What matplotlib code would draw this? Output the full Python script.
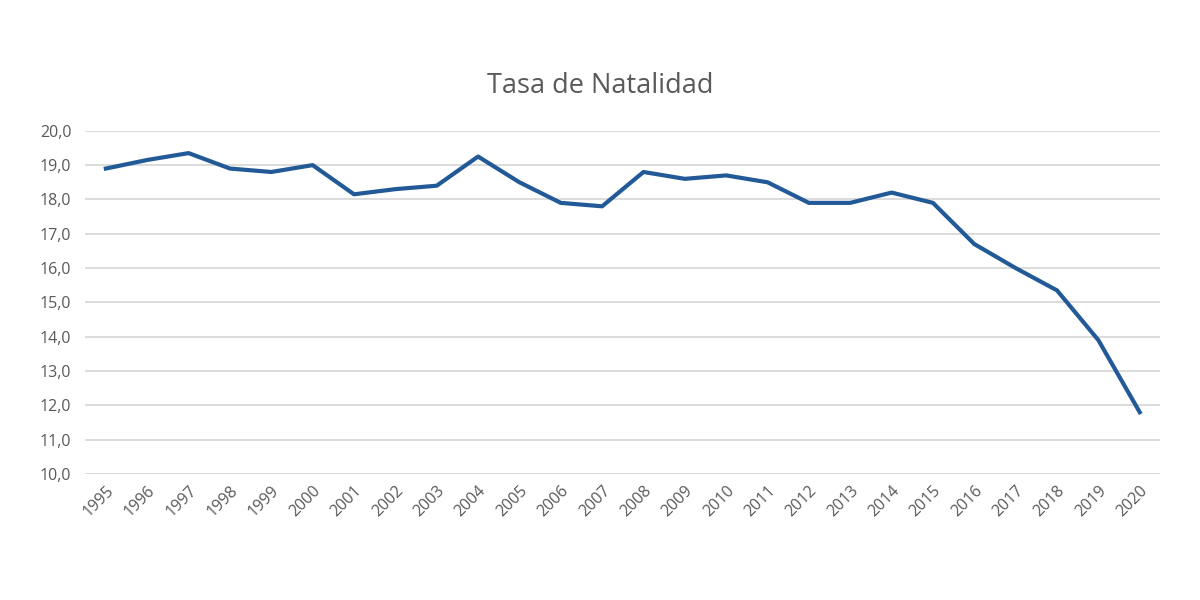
import matplotlib
matplotlib.use("Agg")
import matplotlib.pyplot as plt
from matplotlib.ticker import FuncFormatter, MultipleLocator

years = [str(y) for y in range(1995, 2021)]
tasa = [18.9, 19.15, 19.35, 18.9, 18.8, 19.0, 18.15, 18.3, 18.4, 19.25,
        18.5, 17.9, 17.8, 18.8, 18.6, 18.7, 18.5, 17.9, 17.9, 18.2,
        17.9, 16.7, 16.0, 15.35, 13.9, 11.8]

plt.rcParams['font.family'] = ['Open Sans', 'DejaVu Sans']
text_color = '#595959'

fig = plt.figure(figsize=(12, 6), dpi=100)
ax = fig.add_axes([0.071, 0.21, 0.896, 0.572])

ax.plot(range(len(years)), tasa, color='#225a98', linewidth=3, solid_joinstyle='round')

ax.set_xlim(-0.5, len(years) - 0.5)
ax.set_ylim(10, 20)
ax.yaxis.set_major_locator(MultipleLocator(1))
ax.yaxis.set_major_formatter(FuncFormatter(lambda v, p: f"{v:.1f}".replace('.', ',')))
ax.set_xticks(range(len(years)))
ax.set_xticklabels(years, rotation=45, ha='right', rotation_mode='anchor')

ax.grid(axis='y', color='#d9d9d9', linewidth=1.3)
ax.set_axisbelow(True)
for s in ax.spines.values():
    s.set_visible(False)
ax.tick_params(axis='both', length=0, labelsize=11.5, colors=text_color)
ax.tick_params(axis='y', pad=10)
ax.tick_params(axis='x', pad=6)

fig.text(0.5, 0.857, "Tasa de Natalidad", ha='center', va='center', fontsize=19.5, color=text_color)

fig.savefig("out.png", dpi=100)
